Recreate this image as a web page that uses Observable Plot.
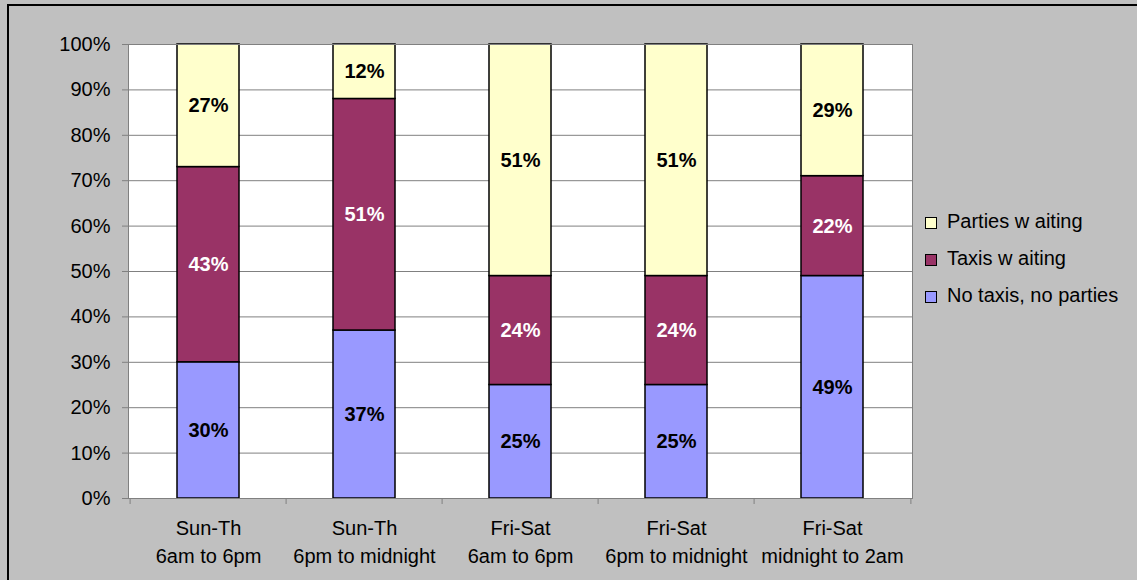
<!DOCTYPE html>
<html><head><meta charset="utf-8">
<script src="https://cdn.jsdelivr.net/npm/d3@7"></script>
<script src="https://cdn.jsdelivr.net/npm/@observablehq/plot@0.6"></script>
<style>
html,body{margin:0;padding:0;background:#C0C0C0;width:1137px;height:580px;overflow:hidden;font-family:"Liberation Sans",Arial,sans-serif;}
#border{position:absolute;left:7px;top:4px;width:1300px;height:800px;border:2px solid #000;box-sizing:border-box}
#chart{position:absolute;left:0;top:0}
#legend{position:absolute;left:925px;top:203px;font-size:20px;color:#000}
.row{height:37px;display:flex;align-items:center;white-space:nowrap}
.sw{width:10px;height:10px;border:1px solid #000;margin-right:10px;margin-top:3px}
</style></head><body>
<div id="border"></div><div id="chart"></div><div id="legend"></div>
<script>
const categories = ["Sun-Th\n6am to 6pm","Sun-Th\n6pm to midnight","Fri-Sat\n6am to 6pm","Fri-Sat\n6pm to midnight","Fri-Sat\nmidnight to 2am"];
const series = ["No taxis, no parties","Taxis waiting","Parties waiting"];
const colors = ["#9999FF","#993366","#FFFFCC"];
const noTaxisNoParties = [30,37,25,25,49];
const taxisWaiting = [43,51,24,24,22];
const partiesWaiting = [27,12,51,51,29];
const legendLabels = ["Parties w aiting","Taxis w aiting","No taxis, no parties"];
const legendColors = ["#FFFFCC","#993366","#9999FF"];
const yTicks = [0,10,20,30,40,50,60,70,80,90,100];

const seriesValues = [noTaxisNoParties, taxisWaiting, partiesWaiting];
const data = [];
categories.forEach((c,i)=>series.forEach((s,j)=>data.push({cat:c, series:s, value:seriesValues[j][i]/100})));

const W=1137,H=580,mL=128,mR=225,mT=44,mB=82;
const step=(W-mL-mR)/categories.length;

const chart = Plot.plot({
  width:W,height:H,marginLeft:mL,marginRight:mR,marginTop:mT,marginBottom:mB,
  style:{background:"transparent",fontFamily:"'Liberation Sans',Arial,sans-serif",fontSize:"20px",color:"#000",overflow:"visible"},
  x:{domain:categories,paddingInner:0.6,paddingOuter:0.3,label:null},
  y:{domain:[0,1],label:null},
  color:{domain:series,range:colors},
  marks:[
    Plot.frame({fill:"white",stroke:null}),
    Plot.gridY(yTicks.map(v=>v/100),{stroke:"#808080",strokeOpacity:1}),
    Plot.barY(data,{x:"cat",y:"value",fill:"series",order:series,stroke:"#000",strokeWidth:1.5}),
    Plot.text(data,Plot.stackY({x:"cat",y:"value",z:"series",order:series,text:d=>Math.round(d.value*100)+"%",
      fill:d=>d.series==="Taxis waiting"?"white":"black",fontWeight:"bold",fontSize:20})),
    Plot.frame({stroke:"#808080"}),
    Plot.axisY(yTicks.map(v=>v/100),{tickFormat:d=>Math.round(d*100)+"%",tickSize:6,tickPadding:12,stroke:"#808080",fill:"#000",fontSize:20}),
    Plot.axisX({tickSize:0,tickPadding:17,lineHeight:1.4,fill:"#000",fontSize:20}),
    Plot.axisX({tickSize:6,tickFormat:()=>"",dx:-step/2,stroke:"#808080"}),
    Plot.axisX([categories[categories.length-1]],{tickSize:6,tickFormat:()=>"",dx:step/2,stroke:"#808080"})
  ]
});
document.getElementById("chart").appendChild(chart);

const lg=document.getElementById("legend");
legendLabels.forEach((t,i)=>{
  const r=document.createElement("div");r.className="row";
  const s=document.createElement("div");s.className="sw";s.style.background=legendColors[i];
  const tx=document.createElement("span");tx.textContent=t;
  r.appendChild(s);r.appendChild(tx);lg.appendChild(r);
});
</script>
</body></html>
